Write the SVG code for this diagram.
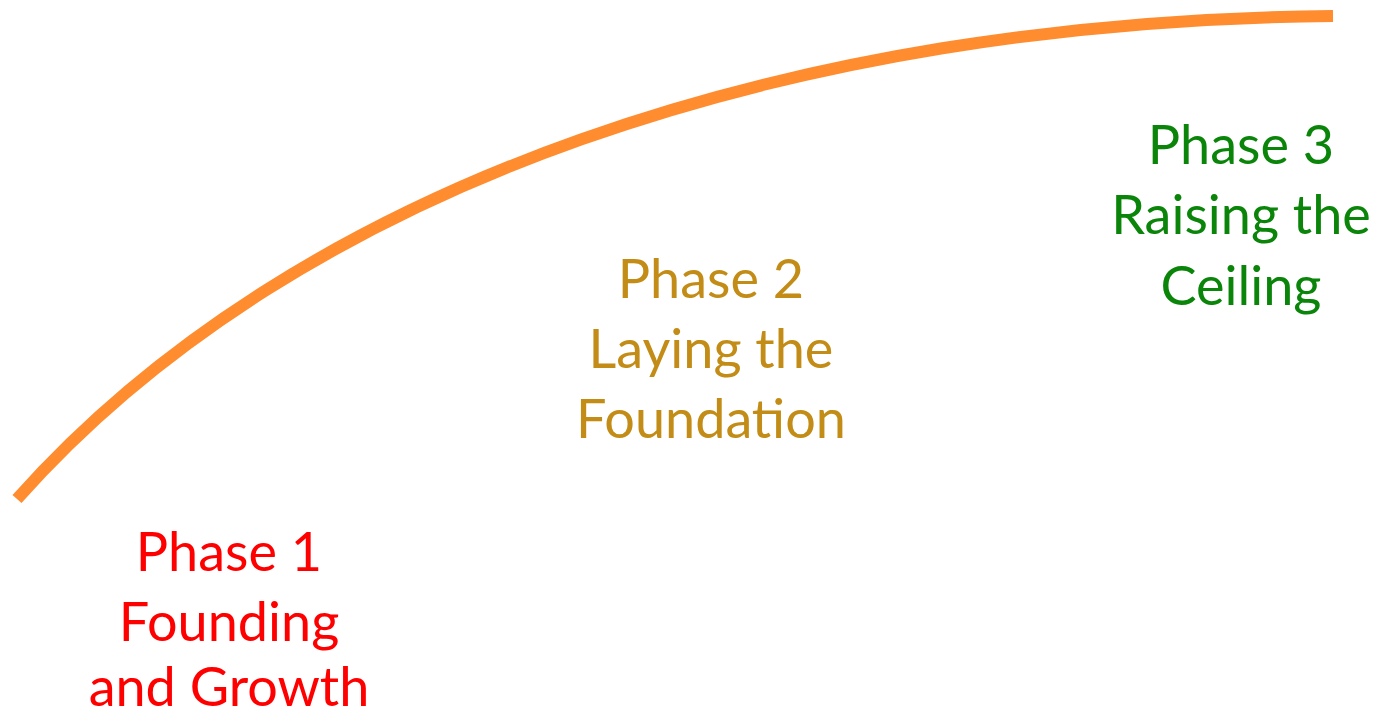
<svg xmlns="http://www.w3.org/2000/svg" width="1375" height="717" viewBox="0 0 1375 717">
<style>
.t{font-family:Lato,"Open Sans","Liberation Sans",sans-serif;font-size:54px;text-anchor:middle}
.p1{fill:#FF0000}.p2{fill:#C28C16}.p3{fill:#0A850A}
.curve{fill:none;stroke:#FF8C2E;stroke-width:12;stroke-linecap:butt}
</style>
<rect width="1375" height="717" fill="#fff"/>
<g id="connectors"><path class="curve" d="M17,499 C300,180 800,20 1333,16"/></g>
<g id="phase1"><text class="t p1" x="229" y="571">Phase 1</text><text class="t p1" x="229" y="641">Founding</text><text class="t p1" x="229" y="706">and Growth</text></g>
<g id="phase2"><text class="t p2" x="711" y="298">Phase 2</text><text class="t p2" x="711" y="368">Laying the</text><text class="t p2" x="711" y="438">Foundation</text></g>
<g id="phase3"><text class="t p3" x="1241" y="164">Phase 3</text><text class="t p3" x="1241" y="234">Raising the</text><text class="t p3" x="1241" y="305">Ceiling</text></g>
</svg>
